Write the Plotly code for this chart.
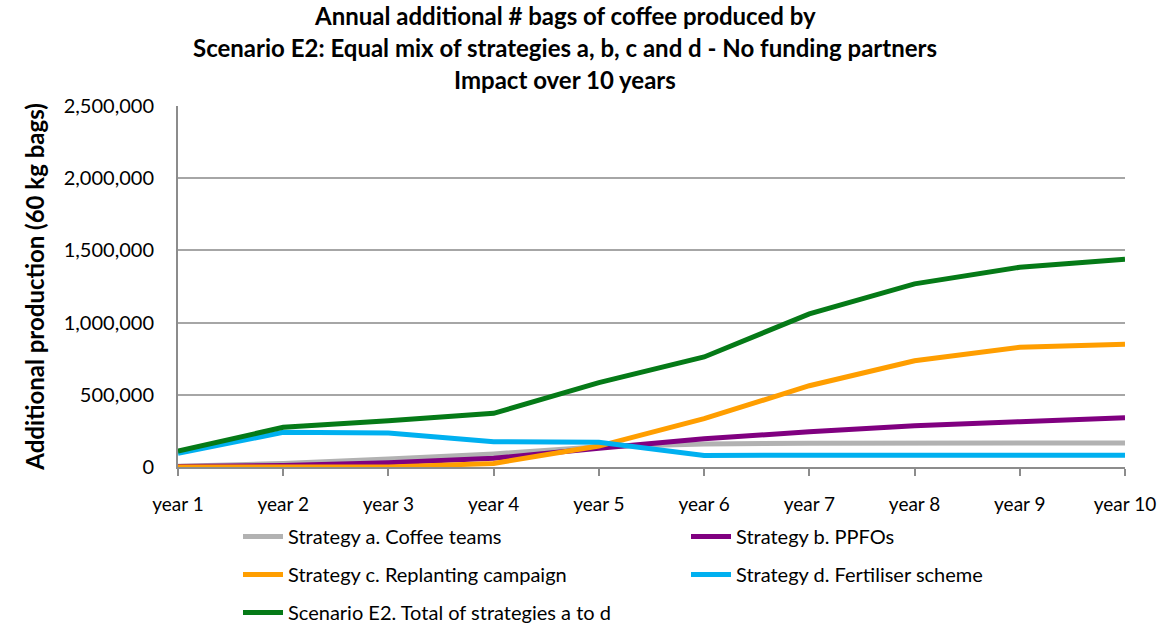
import plotly.graph_objects as go

years = ["year 1", "year 2", "year 3", "year 4", "year 5",
         "year 6", "year 7", "year 8", "year 9", "year 10"]

strategy_a = [5000, 25000, 55000, 90000, 140000, 160000, 165000, 166000, 167000, 167000]
strategy_b = [3000, 10000, 30000, 60000, 130000, 195000, 244000, 286000, 314000, 341000]
strategy_c = [0, 0, 0, 25000, 145000, 335000, 563000, 736000, 829000, 850000]
strategy_d = [95000, 240000, 235000, 175000, 172000, 80000, 81000, 81000, 81000, 81000]
scenario_e2 = [110000, 275000, 320000, 372000, 584000, 762000, 1060000, 1268000, 1383000, 1438000]

y_ticks = [0, 500000, 1000000, 1500000, 2000000, 2500000]

series = [
    ("Strategy a. Coffee teams", strategy_a, "#b2b2b2", "legend"),
    ("Strategy b. PPFOs", strategy_b, "#800080", "legend2"),
    ("Strategy c. Replanting campaign", strategy_c, "#ff9e00", "legend"),
    ("Strategy d. Fertiliser scheme", strategy_d, "#00b0f0", "legend2"),
    ("Scenario E2. Total of strategies a to d", scenario_e2, "#057a17", "legend"),
]

FONT = "Lato, Calibri, Carlito, sans-serif"

# plot area in pixels
PL, PR, PT, PB = 178, 1125, 106, 467
PW, PH = PR - PL, PB - PT


def px_x(x):
    return (x - PL) / PW


def px_y(y):
    return (PB - y) / PH


fig = go.Figure()
for i, (name, vals, color, leg) in enumerate(series):
    fig.add_trace(go.Scatter(
        x=years, y=vals, name=name, mode="lines",
        line=dict(color=color, width=5),
        legend=leg, legendgroup=f"g{i}",
        hoverinfo="x+y+name",
    ))

title_lines = [
    "Annual additional # bags of coffee produced by",
    "Scenario E2: Equal mix of strategies a, b, c and d - No funding partners",
    "Impact over 10 years",
]
title_y = [16, 47, 79]
annotations = [
    dict(text=f"<b>{txt}</b>", xref="paper", yref="paper",
         x=px_x(565), y=px_y(py), xanchor="center", yanchor="middle",
         showarrow=False, font=dict(family=FONT, size=24, color="black"))
    for txt, py in zip(title_lines, title_y)
]

legend_common = dict(
    orientation="v", bgcolor="rgba(0,0,0,0)",
    font=dict(family=FONT, size=20, color="black"),
    tracegroupgap=9, itemwidth=40,
    xanchor="left", yanchor="top",
)

fig.update_layout(
    width=1162, height=623,
    margin=dict(l=PL, r=1162 - PR, t=PT, b=623 - PB, autoexpand=False),
    paper_bgcolor="white", plot_bgcolor="white",
    font=dict(family=FONT, size=16, color="black"),
    annotations=annotations,
    showlegend=True,
    legend=dict(x=px_x(238), y=px_y(517), **legend_common),
    legend2=dict(x=px_x(686), y=px_y(517), **legend_common),
    xaxis=dict(
        type="category", range=[0, 9],
        showline=True, linecolor="#8c8c8c", linewidth=2,
        ticks="outside", ticklen=7, tickcolor="#8c8c8c", tickwidth=1.5,
        showgrid=False, zeroline=False,
        tickfont=dict(family=FONT, size=19, color="black"),
        ticklabelstandoff=12,
    ),
    yaxis=dict(
        range=[0, 2500000], tickvals=y_ticks, tickformat=",",
        showline=True, linecolor="#8c8c8c", linewidth=2,
        showgrid=True, gridcolor="#a6a6a6", gridwidth=1.5,
        zeroline=False, ticks="",
        tickfont=dict(family=FONT, size=20, color="black"),
        ticklabelstandoff=18,
        title=dict(text="<b>Additional production (60 kg bags)</b>",
                   font=dict(family=FONT, size=24, color="black"),
                   standoff=12),
    ),
)

fig.write_html("out.html")
